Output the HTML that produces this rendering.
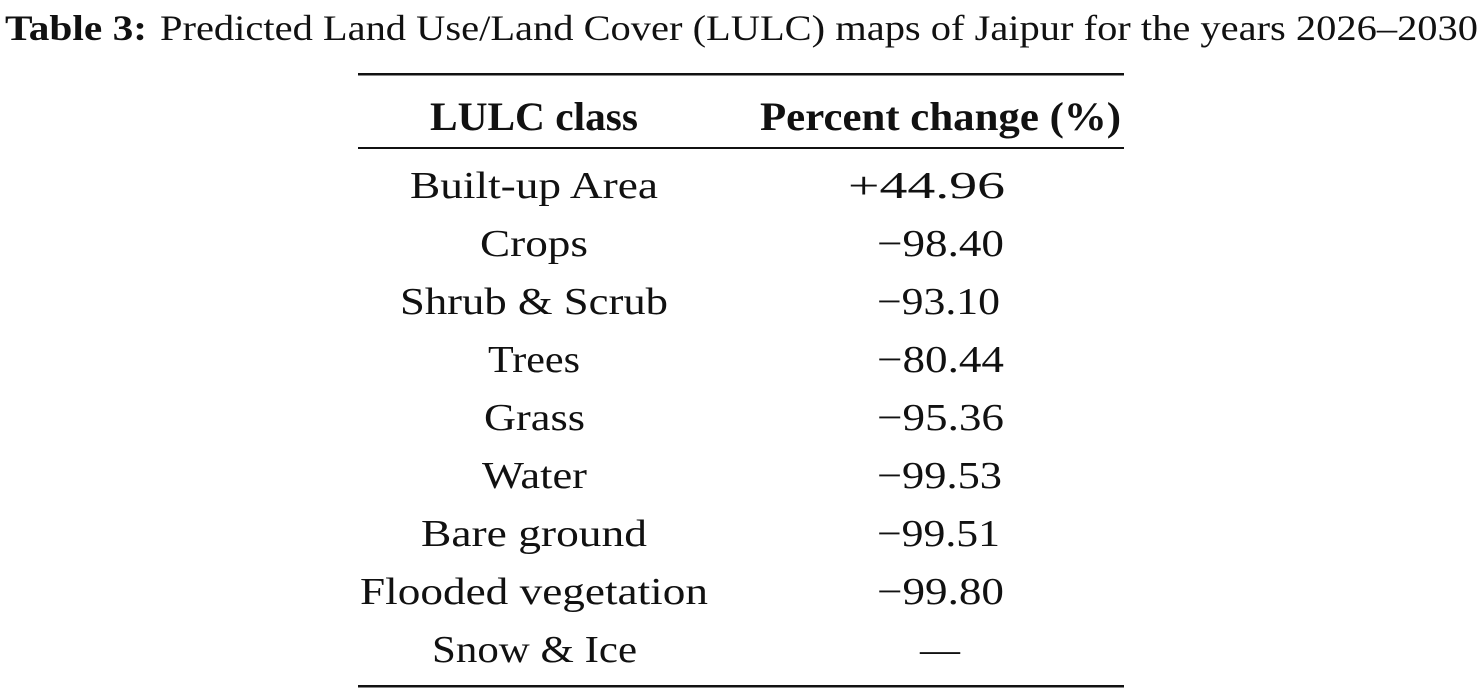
<!DOCTYPE html>
<html><head><meta charset="utf-8"><style>
html,body{margin:0;padding:0;background:#fff;}
svg{display:block;font-family:"Liberation Serif",serif;}
</style></head><body>
<svg width="1483" height="690" viewBox="0 0 1483 690" xmlns="http://www.w3.org/2000/svg">
<g fill="#111" font-size="36">
<text x="5" y="40" font-weight="bold" textLength="142" lengthAdjust="spacingAndGlyphs">Table 3:</text>
<text x="160" y="40" textLength="1318" lengthAdjust="spacingAndGlyphs">Predicted Land Use/Land Cover (LULC) maps of Jaipur for the years 2026–2030</text>
</g>
<rect x="358" y="73" width="766" height="2.5" fill="#111"/>
<rect x="358" y="147" width="766" height="2" fill="#111"/>
<rect x="358" y="685" width="766" height="2.5" fill="#111"/>
<g fill="#111" font-size="40" font-weight="bold">
<text x="430" y="130" textLength="208" lengthAdjust="spacingAndGlyphs">LULC class</text>
<text x="760" y="130" textLength="361" lengthAdjust="spacingAndGlyphs">Percent change (%)</text>
</g>
<g fill="#111" font-size="38">
<text x="410" y="198" textLength="248" lengthAdjust="spacingAndGlyphs">Built-up Area</text>
<text x="480" y="256" textLength="108" lengthAdjust="spacingAndGlyphs">Crops</text>
<text x="400" y="314" textLength="268" lengthAdjust="spacingAndGlyphs">Shrub &amp; Scrub</text>
<text x="488" y="372" textLength="92" lengthAdjust="spacingAndGlyphs">Trees</text>
<text x="484" y="430" textLength="101" lengthAdjust="spacingAndGlyphs">Grass</text>
<text x="482" y="488" textLength="105" lengthAdjust="spacingAndGlyphs">Water</text>
<text x="421" y="546" textLength="226" lengthAdjust="spacingAndGlyphs">Bare ground</text>
<text x="360" y="604" textLength="348" lengthAdjust="spacingAndGlyphs">Flooded vegetation</text>
<text x="432" y="662" textLength="205" lengthAdjust="spacingAndGlyphs">Snow &amp; Ice</text>
<text x="848" y="198" textLength="157" lengthAdjust="spacingAndGlyphs">+44.96</text>
<text x="877" y="256" textLength="127" lengthAdjust="spacingAndGlyphs">−98.40</text>
<text x="877" y="314" textLength="123" lengthAdjust="spacingAndGlyphs">−93.10</text>
<text x="877" y="372" textLength="127" lengthAdjust="spacingAndGlyphs">−80.44</text>
<text x="877" y="430" textLength="127" lengthAdjust="spacingAndGlyphs">−95.36</text>
<text x="877" y="488" textLength="125" lengthAdjust="spacingAndGlyphs">−99.53</text>
<text x="877" y="546" textLength="123" lengthAdjust="spacingAndGlyphs">−99.51</text>
<text x="877" y="604" textLength="127" lengthAdjust="spacingAndGlyphs">−99.80</text>
<text x="920" y="662" textLength="40" lengthAdjust="spacingAndGlyphs">—</text>
</g>
</svg>
</body></html>
